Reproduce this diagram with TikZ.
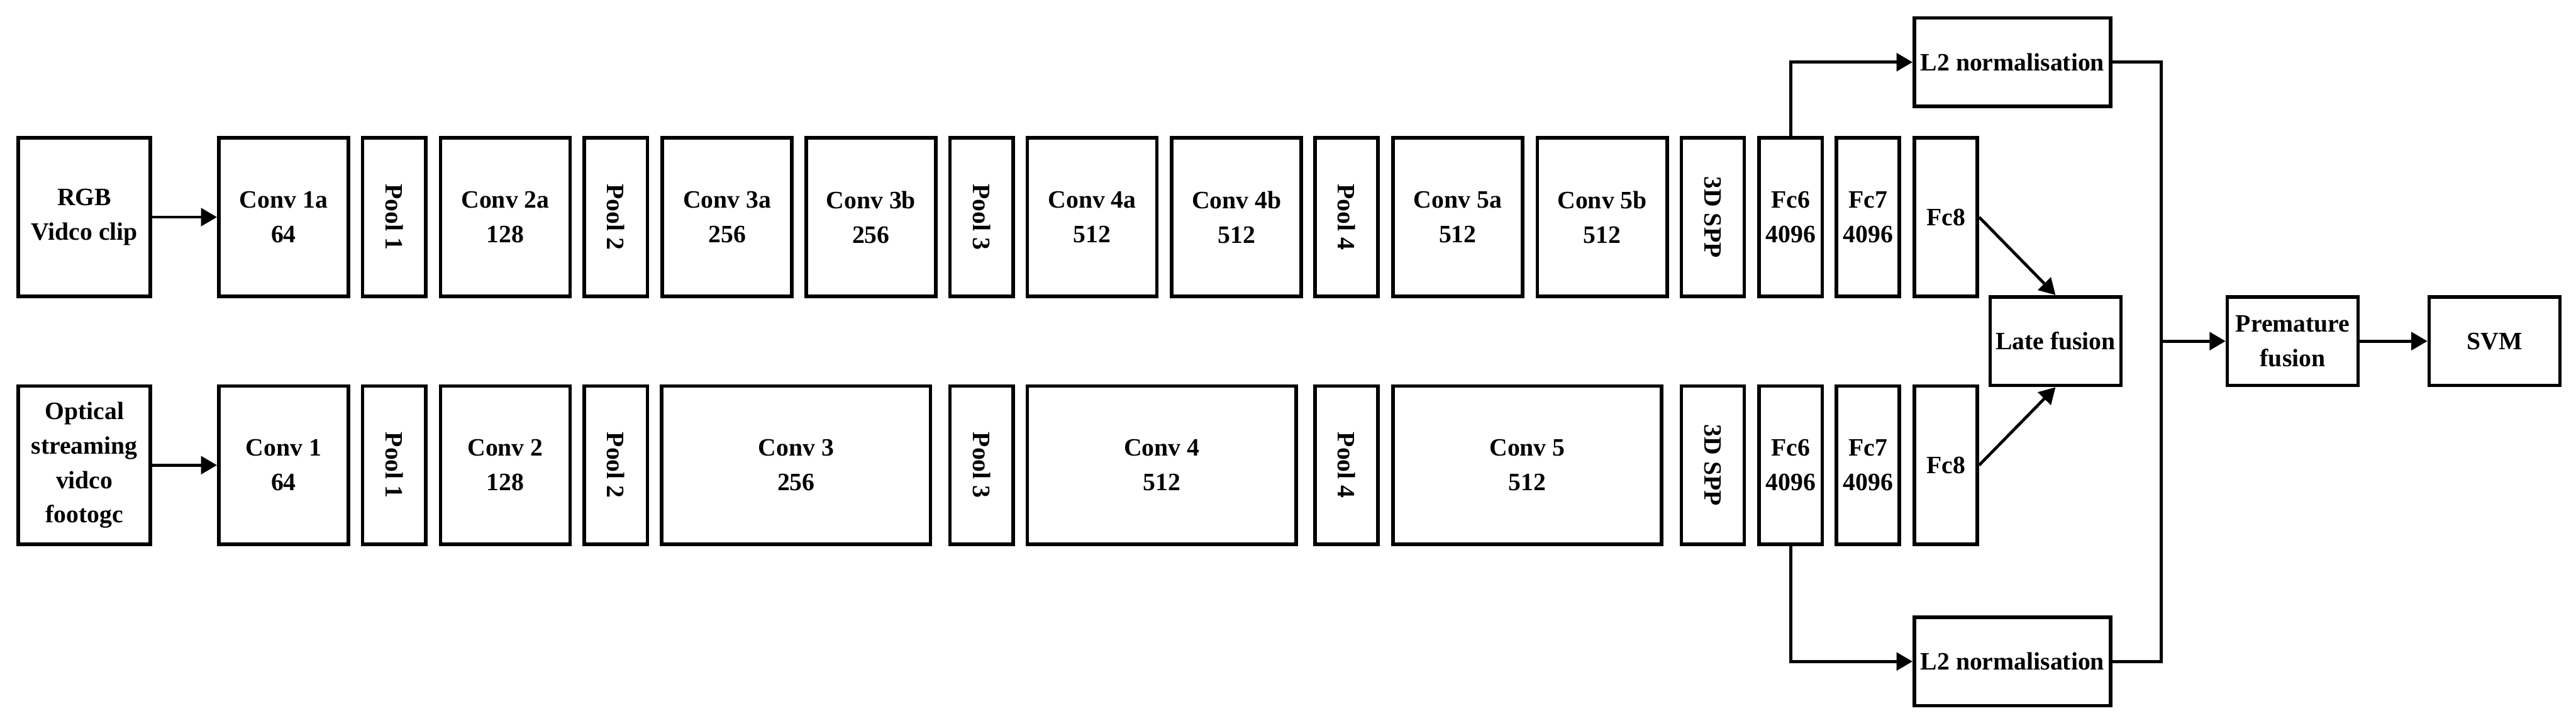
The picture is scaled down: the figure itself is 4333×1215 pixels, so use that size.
\documentclass[tikz,border=0pt]{standalone}
\usepackage{fontspec}
\setmainfont{Liberation Serif}
\usetikzlibrary{arrows.meta}
\tikzset{
  box/.style={draw, line width=1.5pt, inner sep=0pt, align=center,
    font=\fontsize{10.5}{14.5}\selectfont\bfseries},
  rowbox/.style={box, minimum height=66.5pt},
  convbox/.style={rowbox, minimum width=54.5pt},
  widebox/.style={rowbox, minimum width=113pt},
  thinbox/.style={rowbox, minimum width=26.5pt},
  inbox/.style={rowbox, minimum width=55.5pt},
  smallbox/.style={box, minimum height=37.25pt, minimum width=55pt},
  l2box/.style={box, minimum height=37.25pt, minimum width=82.5pt},
  vlabel/.style={rotate=-90},
  conn/.style={line width=1.25pt},
  arr/.style={conn, -{Triangle[length=6.75pt,width=7.5pt]}}
}
\begin{document}
\begin{tikzpicture}[x=0.25pt,y=-0.25pt]
\useasboundingbox (0,0) rectangle (4333,1215);
% top row
\node[inbox]   (rgb)  at (142,365) {RGB\\Vidco clip};
\node[convbox] (c1a)  at (477,365) {Conv 1a\\64};
\node[thinbox] (p1t)  at (663,365) {\rotatebox{-90}{Pool 1}};
\node[convbox] (c2a)  at (850,365) {Conv 2a\\128};
\node[thinbox] (p2t)  at (1036,365) {\rotatebox{-90}{Pool 2}};
\node[convbox] (c3a)  at (1223,365) {Conv 3a\\256};
\node[convbox] (c3b)  at (1465,365) {Conv 3b\\256};
\node[thinbox] (p3t)  at (1651,365) {\rotatebox{-90}{Pool 3}};
\node[convbox] (c4a)  at (1837,365) {Conv 4a\\512};
\node[convbox] (c4b)  at (2080,365) {Conv 4b\\512};
\node[thinbox] (p4t)  at (2265,365) {\rotatebox{-90}{Pool 4}};
\node[convbox] (c5a)  at (2452,365) {Conv 5a\\512};
\node[convbox] (c5b)  at (2695,365) {Conv 5b\\512};
\node[thinbox] (sppt) at (2881,365) {\rotatebox{-90}{3D SPP}};
\node[thinbox] (fc6t) at (3012,365) {Fc6\\4096};
\node[thinbox] (fc7t) at (3142,365) {Fc7\\4096};
\node[thinbox] (fc8t) at (3273,365) {Fc8};
% bottom row
\node[inbox]   (opt)  at (142,782) {Optical\\streaming\\vidco\\footogc};
\node[convbox] (c1)   at (477,782) {Conv 1\\64};
\node[thinbox] (p1b)  at (663,782) {\rotatebox{-90}{Pool 1}};
\node[convbox] (c2)   at (850,782) {Conv 2\\128};
\node[thinbox] (p2b)  at (1036,782) {\rotatebox{-90}{Pool 2}};
\node[widebox] (c3)   at (1339,782) {Conv 3\\256};
\node[thinbox] (p3b)  at (1651,782) {\rotatebox{-90}{Pool 3}};
\node[widebox] (c4)   at (1954,782) {Conv 4\\512};
\node[thinbox] (p4b)  at (2265,782) {\rotatebox{-90}{Pool 4}};
\node[widebox] (c5)   at (2569,782) {Conv 5\\512};
\node[thinbox] (sppb) at (2881,782) {\rotatebox{-90}{3D SPP}};
\node[thinbox] (fc6b) at (3012,782) {Fc6\\4096};
\node[thinbox] (fc7b) at (3142,782) {Fc7\\4096};
\node[thinbox] (fc8b) at (3273,782) {Fc8};
% right part
\node[l2box]    (l2t)  at (3385,104.5) {L2 normalisation};
\node[l2box]    (l2b)  at (3385,1112) {L2 normalisation};
\node[smallbox] (late) at (3457.5,573.5) {Late fusion};
\node[smallbox] (prem) at (3856.5,573.5) {Premature\\fusion};
\node[smallbox] (svm)  at (4196,573.5) {SVM};
\coordinate (j) at (3635,573.5);
% connectors
\draw[arr] (rgb) -- (c1a);
\draw[arr] (opt) -- (c1);
\draw[arr] (fc6t.north) |- (l2t.west);
\draw[arr] (fc6b.south) |- (l2b.west);
\draw[arr] (fc8t.east) -- (late.north);
\draw[arr] (fc8b.east) -- (late.south);
\draw[conn] (l2t.east) -| (j) |- (l2b.east);
\draw[arr] (j) -- (prem.west);
\draw[arr] (prem) -- (svm);
\end{tikzpicture}
\end{document}
